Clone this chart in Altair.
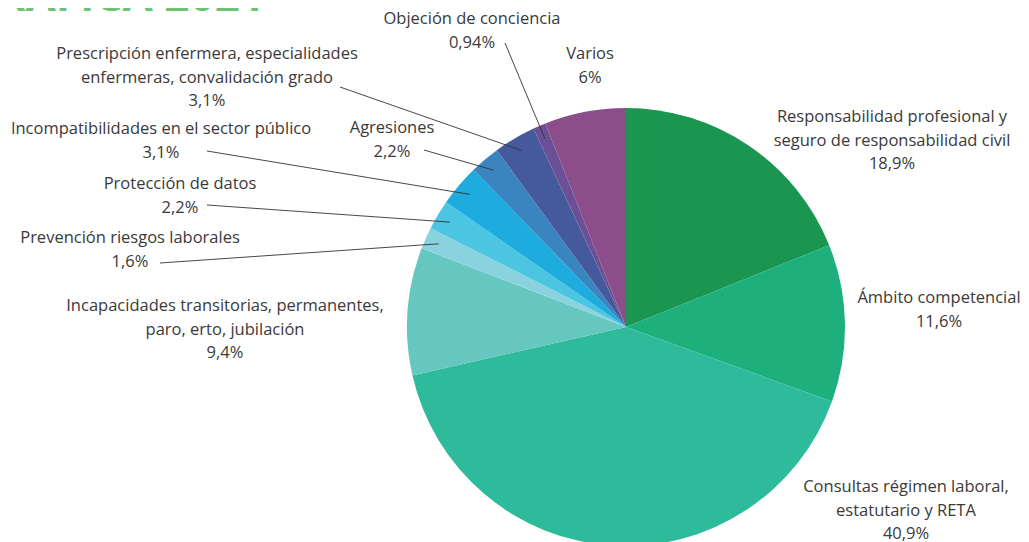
import altair as alt
import pandas as pd
import math

# ---- data ----
categories = [
    "Responsabilidad profesional y seguro de responsabilidad civil",
    "Ámbito competencial",
    "Consultas régimen laboral, estatutario y RETA",
    "Incapacidades transitorias, permanentes, paro, erto, jubilación",
    "Prevención riesgos laborales",
    "Protección de datos",
    "Incompatibilidades en el sector público",
    "Agresiones",
    "Prescripción enfermera, especialidades enfermeras, convalidación grado",
    "Objeción de conciencia",
    "Varios",
]
values = [18.9, 11.6, 40.9, 9.4, 1.6, 2.2, 3.1, 2.2, 3.1, 0.94, 6]
pct_text = ["18,9%", "11,6%", "40,9%", "9,4%", "1,6%", "2,2%", "3,1%", "2,2%", "3,1%", "0,94%", "6%"]
label_lines = [
    "Responsabilidad profesional y\nseguro de responsabilidad civil",
    "Ámbito competencial",
    "Consultas régimen laboral,\nestatutario y RETA",
    "Incapacidades transitorias, permanentes,\nparo, erto, jubilación",
    "Prevención riesgos laborales",
    "Protección de datos",
    "Incompatibilidades en el sector público",
    "Agresiones",
    "Prescripción enfermera, especialidades\nenfermeras, convalidación grado",
    "Objeción de conciencia",
    "Varios",
]

# ---- style / layout ----
colors = ["#1A9651", "#1DB07C", "#2EBB9C", "#66C6C0", "#8AD3DE", "#4CC5E3",
          "#1EABDD", "#3A84C0", "#455A9C", "#6B5097", "#8B4E8A"]
OFF = 8  # page margin
CX, CY, R = 626 - OFF, 327 - OFF, 219
# label anchor (page coords): center x, baseline of first line
label_pos = [(892, 122), (939, 303), (906, 492), (225, 311), (130, 243), (180, 189),
             (161, 134), (392, 133), (207, 59), (472, 24), (590, 59)]
# leader start points (page coords), None when no leader
leader_start = [None, None, None, None, (160, 263), (207, 205), (207, 151),
                (424, 150), (340, 87), (505, 43), None]
LEADER_R = 205

df = pd.DataFrame({"category": categories, "value": values, "order": list(range(len(values)))})

lab = pd.DataFrame({
    "label": [f"{l}\n{p}" for l, p in zip(label_lines, pct_text)],
    "lx": [p[0] - OFF for p in label_pos],
    "ly": [p[1] - OFF for p in label_pos],
})

total = sum(values)
rows = []
cum = 0.0
for v, s in zip(values, leader_start):
    mid = (cum + v / 2) / total * 2 * math.pi
    cum += v
    if s is None:
        continue
    rows.append({
        "x": s[0] - OFF, "y": s[1] - OFF,
        "x2": CX + LEADER_R * math.sin(mid), "y2": CY - LEADER_R * math.cos(mid),
    })
lead = pd.DataFrame(rows)

W, H = 1029 - 2 * OFF, 542 - OFF

pie = alt.Chart(df).mark_arc(outerRadius=R, clip=True).encode(
    theta=alt.Theta("value:Q", stack=True),
    order=alt.Order("order:Q"),
    color=alt.Color("category:N", scale=alt.Scale(domain=categories, range=colors), legend=None),
    x=alt.value(CX), y=alt.value(CY),
)

lines = alt.Chart(lead).mark_rule(color="#333333", strokeWidth=0.9).encode(
    x=alt.X("x:Q", scale=None), y=alt.Y("y:Q", scale=None),
    x2="x2:Q", y2="y2:Q",
)

texts = alt.Chart(lab).mark_text(
    align="center", baseline="alphabetic", lineBreak="\n", font="Open Sans",
    fontSize=16.5, lineHeight=23.5, color="#3a3a3a",
).encode(
    x=alt.X("lx:Q", scale=None), y=alt.Y("ly:Q", scale=None), text="label:N",
)

title_df = pd.DataFrame({"t": ["GRÁFICA 2021"], "x": [265 - OFF], "y": [3]})
title = alt.Chart(title_df).mark_text(
    align="right", baseline="alphabetic", font="Open Sans", fontSize=44,
    fontWeight="bold", color="#6DC273",
).encode(x=alt.X("x:Q", scale=None), y=alt.Y("y:Q", scale=None), text="t:N")

chart = alt.layer(pie, lines, texts, title).properties(
    width=W, height=H, padding=0,
    autosize=alt.AutoSizeParams(type="none"),
).configure_view(stroke=None)

chart.save("out.html", embed_options={"renderer": "svg", "actions": False})
